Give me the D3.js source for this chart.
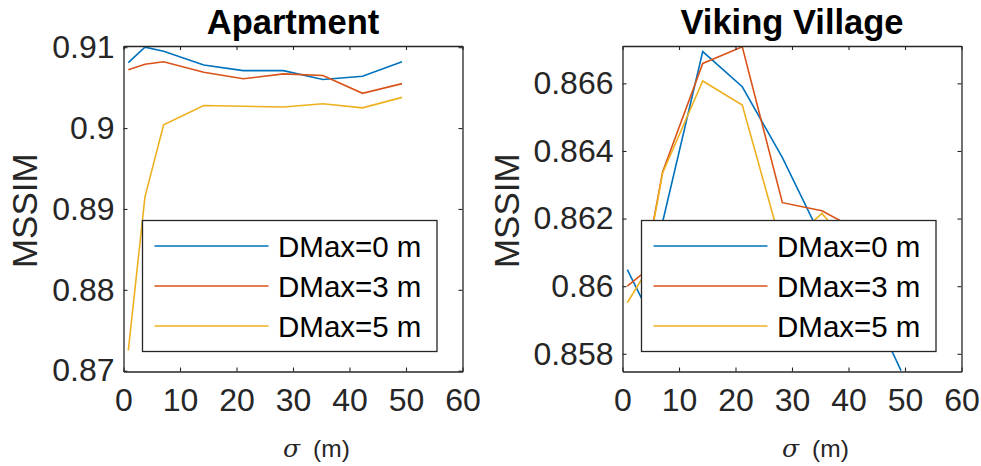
<!DOCTYPE html>
<html>
<head>
<meta charset="utf-8">
<script src="https://cdn.jsdelivr.net/npm/d3@7"></script>
<style>
  body { margin: 0; background: #fff; }
  svg { display: block; }
  text { font-family: "Liberation Sans", Arial, Helvetica, sans-serif; }
</style>
</head>
<body>
<svg id="chart" width="981" height="466"></svg>
<script>
// ---- data ----
const sigma = [0.85, 3.8, 7.1, 14.2, 21.2, 28.3, 35.3, 42.3, 49.3];
const seriesNames = ["DMax=0 m", "DMax=3 m", "DMax=5 m"];
const seriesColors = ["#0072BD", "#D95319", "#EDB120"];

const apartmentD0 = [0.9081, 0.9100, 0.9095, 0.9078, 0.9071, 0.9071, 0.9060, 0.9064, 0.9082];
const apartmentD3 = [0.9072, 0.9079, 0.9082, 0.9069, 0.9061, 0.9067, 0.9065, 0.9043, 0.9055];
const apartmentD5 = [0.8725, 0.8915, 0.9004, 0.9028, 0.9027, 0.9026, 0.9030, 0.9025, 0.9038];

const vikingD0 = [0.86049, 0.8595, 0.8619, 0.86694, 0.8659, 0.8638, 0.8614, 0.8600, 0.8575];
const vikingD3 = [0.8600, 0.8604, 0.86338, 0.86659, 0.86708, 0.86247, 0.86223, 0.8616, 0.8610];
const vikingD5 = [0.85951, 0.86032, 0.86335, 0.86607, 0.86536, 0.8611, 0.86215, 0.8608, 0.8604];

const xTicks = [0, 10, 20, 30, 40, 50, 60];
const apartmentYTicks = [0.87, 0.88, 0.89, 0.90, 0.91];
const apartmentYLabels = ["0.87", "0.88", "0.89", "0.9", "0.91"];
const vikingYTicks = [0.858, 0.860, 0.862, 0.864, 0.866];
const vikingYLabels = ["0.858", "0.86", "0.862", "0.864", "0.866"];

const panels = [
  { title: "Apartment", left: 123.5, series: [apartmentD0, apartmentD3, apartmentD5],
    yDomain: [0.8699, 0.91015], yTicks: apartmentYTicks, yLabels: apartmentYLabels, yLabelX: 24.5 },
  { title: "Viking Village", left: 622.5, series: [vikingD0, vikingD3, vikingD5],
    yDomain: [0.857476, 0.867105], yTicks: vikingYTicks, yLabels: vikingYLabels, yLabelX: 507 }
];

// ---- layout ----
const svg = d3.select("#chart");
const PW = 339, PTOP = 46, PH = 325.5;
const axisColor = "#262626";

panels.forEach((p, pi) => {
  const g = svg.append("g").attr("transform", `translate(${p.left},${PTOP})`);
  const x = d3.scaleLinear().domain([0, 60]).range([0, PW]);
  const y = d3.scaleLinear().domain(p.yDomain).range([PH, 0]);

  const clipId = "clip" + pi;
  g.append("clipPath").attr("id", clipId).append("rect")
    .attr("x", 0).attr("y", 0).attr("width", PW).attr("height", PH);

  const line = d3.line().x((d, i) => x(sigma[i])).y(d => y(d));
  p.series.forEach((s, si) => {
    g.append("path").datum(s)
      .attr("clip-path", `url(#${clipId})`)
      .attr("fill", "none")
      .attr("stroke", seriesColors[si])
      .attr("stroke-width", 1.6)
      .attr("d", line);
  });

  const styleAxis = sel => {
    sel.selectAll("path.domain").attr("stroke", axisColor).attr("stroke-width", 1.3);
    sel.selectAll(".tick line").attr("stroke", axisColor).attr("stroke-width", 1.1);
    sel.selectAll(".tick text").attr("fill", axisColor).attr("font-size", 32)
      .attr("font-family", '"Liberation Sans", Arial, sans-serif');
  };
  g.append("g").attr("transform", `translate(0,${PH})`)
    .call(d3.axisBottom(x).tickValues(xTicks).tickFormat(d3.format("d"))
      .tickSize(-4).tickSizeOuter(0).tickPadding(17))
    .call(styleAxis);
  g.append("g")
    .call(d3.axisTop(x).tickValues(xTicks).tickFormat("").tickSize(-4).tickSizeOuter(0))
    .call(styleAxis);
  g.append("g")
    .call(d3.axisLeft(y).tickValues(p.yTicks).tickFormat((d, i) => p.yLabels[i])
      .tickSize(-4).tickSizeOuter(0).tickPadding(9))
    .call(styleAxis);
  g.append("g").attr("transform", `translate(${PW},0)`)
    .call(d3.axisRight(y).tickValues(p.yTicks).tickFormat("").tickSize(-4).tickSizeOuter(0))
    .call(styleAxis);

  g.append("text").attr("x", PW / 2).attr("y", 34 - PTOP)
    .attr("text-anchor", "middle").attr("font-weight", "bold")
    .attr("font-size", 34.5).attr("fill", "#000").text(p.title);

  g.append("text")
    .attr("transform", `translate(${p.yLabelX - p.left + 12},${PH / 2 + 2}) rotate(-90)`)
    .attr("text-anchor", "middle").attr("font-size", 35).attr("fill", axisColor)
    .text("MSSIM");

  const xl = g.append("text").attr("x", PW / 2 - 10).attr("y", 457 - PTOP).attr("fill", axisColor);
  xl.append("tspan").attr("font-family", '"DejaVu Serif", "Liberation Serif", serif')
    .attr("font-style", "italic").attr("font-size", 25).text("σ");
  xl.append("tspan").attr("dx", 13).attr("font-size", 24.5).text("(m)");

  const lg = g.append("g").attr("transform", `translate(${PW - 25.5 - 294.5},${PH - 20 - 131})`);
  lg.append("rect").attr("x", 0).attr("y", 0).attr("width", 294.5).attr("height", 131)
    .attr("fill", "#fff").attr("stroke", axisColor).attr("stroke-width", 1.3);
  seriesNames.forEach((name, si) => {
    const cy = 25.5 + si * 40;
    lg.append("line").attr("x1", 12).attr("x2", 126).attr("y1", cy).attr("y2", cy)
      .attr("stroke", seriesColors[si]).attr("stroke-width", 1.6);
    lg.append("text").attr("x", 135.5).attr("y", cy).attr("dy", "0.36em")
      .attr("font-size", 29.5).attr("fill", "#000").text(name);
  });
});
</script>
</body>
</html>
